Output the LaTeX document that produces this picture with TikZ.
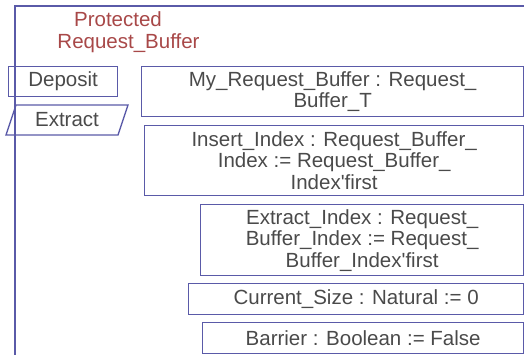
\documentclass[tikz,border=0pt]{standalone}
\usepackage{fontspec}
\setmainfont{Liberation Sans}
\usetikzlibrary{positioning}
\definecolor{frameblue}{HTML}{5A5AA8}
\definecolor{titlered}{HTML}{A84848}
\definecolor{txtgray}{HTML}{4A4A4A}
\newcommand{\aps}{\textquotesingle}
\begin{document}
\begin{tikzpicture}[x=1pt,y=-1pt,
  every node/.style={font=\fontsize{20.5}{21.5}\selectfont, text=txtgray, inner sep=0pt},
  box/.style={draw=frameblue, line width=1.3pt, align=center, anchor=north west},
  frameline/.style={draw=frameblue, line width=1.3pt}]
\useasboundingbox (0,0) rectangle (524,355);
\draw[frameline] (15,355) -- (15,6) -- (524,6);
\node[text=titlered] (t1) at (118,19) {Protected};
\node[text=titlered] (t2) at (128.5,43) {Request\_Buffer};
% Deposit
\node[box, minimum width=109pt, minimum height=30pt] (dep) at (8,66) {Deposit};
% Extract parallelogram
\coordinate (e1) at (16,105);
\coordinate (e2) at (128,105);
\coordinate (e3) at (118,135);
\coordinate (e4) at (6,135);
\draw[frameline] (e1) -- (e2) -- (e3) -- (e4) -- cycle;
\node (ext) at (67,120) {Extract};
% right column
\node[box, minimum width=382pt, minimum height=50pt] (b1) at (141,66) {My\_Request\_Buffer : Request\_\\Buffer\_T};
\node[box, minimum width=379pt, minimum height=70pt] (b2) at (144,125) {Insert\_Index : Request\_Buffer\_\\Index := Request\_Buffer\_\\Index\aps first};
\node[box, minimum width=323pt, minimum height=71pt] (b3) at (200,204) {Extract\_Index : Request\_\\Buffer\_Index := Request\_\\Buffer\_Index\aps first};
\node[box, minimum width=335pt, minimum height=31pt] (b4) at (188,283) {Current\_Size : Natural := 0};
\node[box, minimum width=321pt, minimum height=31pt] (b5) at (202,322) {Barrier : Boolean := False};
\end{tikzpicture}
\end{document}
